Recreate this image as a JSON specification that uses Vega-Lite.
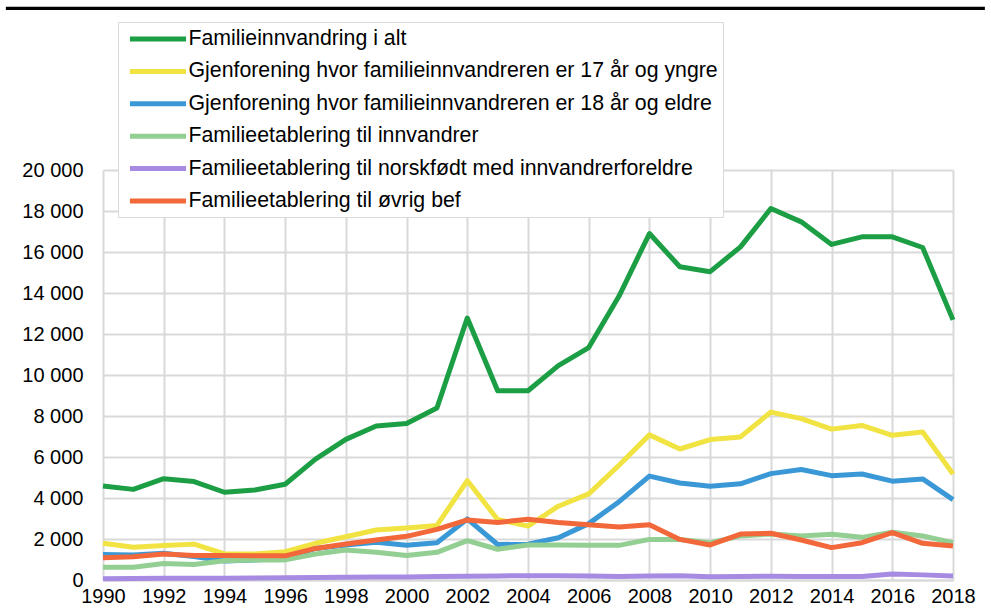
{
  "$schema": "https://vega.github.io/schema/vega-lite/v6.json",
  "width": 850,
  "height": 410,
  "autosize": {"type": "none"},
  "padding": {"left": 103, "top": 170, "right": 38, "bottom": 33},
  "background": "white",
  "config": {"view": {"stroke": null}, "font": "Liberation Sans"},
  "datasets": {
    "series": [
      {"key": "alt", "label": "Familieinnvandring i alt"},
      {"key": "u17", "label": "Gjenforening hvor familieinnvandreren er 17 år og yngre"},
      {"key": "o18", "label": "Gjenforening hvor familieinnvandreren er 18 år og eldre"},
      {"key": "innv", "label": "Familieetablering til innvandrer"},
      {"key": "norsk", "label": "Familieetablering til norskfødt med innvandrerforeldre"},
      {"key": "ovrig", "label": "Familieetablering til øvrig bef"}
    ],
    "main": [
      {"year": 1990, "alt": 4590, "u17": 1790, "o18": 1250, "innv": 620, "norsk": 60, "ovrig": 1090},
      {"year": 1991, "alt": 4420, "u17": 1600, "o18": 1220, "innv": 620, "norsk": 70, "ovrig": 1130},
      {"year": 1992, "alt": 4940, "u17": 1680, "o18": 1300, "innv": 800, "norsk": 80, "ovrig": 1270},
      {"year": 1993, "alt": 4800, "u17": 1750, "o18": 1140, "innv": 760, "norsk": 80, "ovrig": 1200},
      {"year": 1994, "alt": 4280, "u17": 1270, "o18": 930, "innv": 940, "norsk": 90, "ovrig": 1200},
      {"year": 1995, "alt": 4390, "u17": 1270, "o18": 980, "innv": 980, "norsk": 100, "ovrig": 1180},
      {"year": 1996, "alt": 4670, "u17": 1380, "o18": 1060, "innv": 980, "norsk": 110, "ovrig": 1180},
      {"year": 1997, "alt": 5900, "u17": 1790, "o18": 1540, "innv": 1270, "norsk": 120, "ovrig": 1540},
      {"year": 1998, "alt": 6860, "u17": 2110, "o18": 1710, "innv": 1460, "norsk": 140, "ovrig": 1760},
      {"year": 1999, "alt": 7510, "u17": 2440, "o18": 1840, "innv": 1350, "norsk": 150, "ovrig": 1950},
      {"year": 2000, "alt": 7630, "u17": 2540, "o18": 1700, "innv": 1190, "norsk": 150, "ovrig": 2130},
      {"year": 2001, "alt": 8390, "u17": 2660, "o18": 1820, "innv": 1350, "norsk": 170, "ovrig": 2470},
      {"year": 2002, "alt": 12780, "u17": 4850, "o18": 2980, "innv": 1920, "norsk": 180, "ovrig": 2930},
      {"year": 2003, "alt": 9230, "u17": 2950, "o18": 1730, "innv": 1500, "norsk": 200, "ovrig": 2810},
      {"year": 2004, "alt": 9230, "u17": 2630, "o18": 1750, "innv": 1710, "norsk": 210, "ovrig": 2960},
      {"year": 2005, "alt": 10460, "u17": 3600, "o18": 2060, "innv": 1710, "norsk": 210, "ovrig": 2810},
      {"year": 2006, "alt": 11340, "u17": 4200, "o18": 2750, "innv": 1690, "norsk": 190, "ovrig": 2700},
      {"year": 2007, "alt": 13850, "u17": 5600, "o18": 3820, "innv": 1690, "norsk": 170, "ovrig": 2580},
      {"year": 2008, "alt": 16900, "u17": 7080, "o18": 5070, "innv": 1980, "norsk": 190, "ovrig": 2700},
      {"year": 2009, "alt": 15280, "u17": 6390, "o18": 4730, "innv": 1980, "norsk": 210, "ovrig": 1980},
      {"year": 2010, "alt": 15040, "u17": 6850, "o18": 4570, "innv": 1820, "norsk": 160, "ovrig": 1710},
      {"year": 2011, "alt": 16250, "u17": 6980, "o18": 4690, "innv": 2150, "norsk": 170, "ovrig": 2240},
      {"year": 2012, "alt": 18120, "u17": 8190, "o18": 5190, "innv": 2240, "norsk": 180, "ovrig": 2280},
      {"year": 2013, "alt": 17470, "u17": 7870, "o18": 5390, "innv": 2150, "norsk": 170, "ovrig": 1950},
      {"year": 2014, "alt": 16370, "u17": 7360, "o18": 5090, "innv": 2230, "norsk": 170, "ovrig": 1580},
      {"year": 2015, "alt": 16740, "u17": 7540, "o18": 5170, "innv": 2080, "norsk": 170, "ovrig": 1820},
      {"year": 2016, "alt": 16740, "u17": 7060, "o18": 4820, "innv": 2330, "norsk": 290, "ovrig": 2310},
      {"year": 2017, "alt": 16220, "u17": 7220, "o18": 4930, "innv": 2150, "norsk": 250, "ovrig": 1790},
      {"year": 2018, "alt": 12690, "u17": 5170, "o18": 3920, "innv": 1820, "norsk": 200, "ovrig": 1660}
    ]
  },
  "data": {"name": "main"},
  "layer": [
    {
      "transform": [
        {"fold": ["alt", "u17", "o18", "innv", "norsk", "ovrig"], "as": ["key", "value"]},
        {"lookup": "key", "from": {"data": {"name": "series"}, "key": "key", "fields": ["label"]}}
      ],
      "mark": {"type": "line", "strokeWidth": 5, "strokeJoin": "round"},
      "encoding": {
        "x": {
          "field": "year",
          "type": "quantitative",
          "scale": {"domain": [1990, 2018], "nice": false, "zero": false},
          "axis": {
            "title": null,
            "values": [1990,1991,1992,1993,1994,1995,1996,1997,1998,1999,2000,2001,2002,2003,2004,2005,2006,2007,2008,2009,2010,2011,2012,2013,2014,2015,2016,2017,2018],
            "format": "d",
            "labelExpr": "datum.value % 2 == 0 ? datum.label : ''",
            "grid": true,
            "gridColor": "#d9d9d9",
            "gridWidth": 2,
            "domain": true,
            "domainColor": "#d9d9d9",
            "domainWidth": 2,
            "ticks": false,
            "labelFontSize": 20,
            "labelColor": "black",
            "labelPadding": 6,
            "labelFlush": false,
            "labelOverlap": false
          }
        },
        "y": {
          "field": "value",
          "type": "quantitative",
          "scale": {"domain": [0, 20000], "nice": false},
          "axis": {
            "title": null,
            "values": [0,2000,4000,6000,8000,10000,12000,14000,16000,18000,20000],
            "labelExpr": "replace(format(datum.value, ','), ',', ' ')",
            "grid": true,
            "gridColor": "#d9d9d9",
            "gridWidth": 2,
            "domain": false,
            "ticks": false,
            "labelFontSize": 20,
            "labelColor": "black",
            "labelPadding": 20
          }
        },
        "color": {
          "field": "label",
          "type": "nominal",
          "scale": {
            "domain": [
              "Familieinnvandring i alt",
              "Gjenforening hvor familieinnvandreren er 17 år og yngre",
              "Gjenforening hvor familieinnvandreren er 18 år og eldre",
              "Familieetablering til innvandrer",
              "Familieetablering til norskfødt med innvandrerforeldre",
              "Familieetablering til øvrig bef"
            ],
            "range": ["#1c9e45", "#f0e342", "#3a98d6", "#93cf93", "#a78be3", "#f2683a"]
          },
          "legend": {
            "title": null,
            "orient": "none",
            "legendX": 15,
            "legendY": -148,
            "symbolType": "M-3,0L3,0",
            "symbolSize": 350,
            "symbolStrokeWidth": 5,
            "symbolOffset": 23,
            "labelFontSize": 21.3,
            "labelColor": "black",
            "labelLimit": 0,
            "labelOffset": 18.5,
            "fillColor": "white",
            "strokeColor": "#d9d9d9",
            "padding": 5,
            "rowPadding": 9.4
          }
        }
      }
    },
    {
      "data": {"values": [{}]},
      "mark": {"type": "rule", "color": "black", "strokeWidth": 3.3},
      "encoding": {
        "x": {"datum": 1986.8},
        "x2": {"datum": 2019.05},
        "y": {"datum": 27880}
      }
    }
  ]
}
